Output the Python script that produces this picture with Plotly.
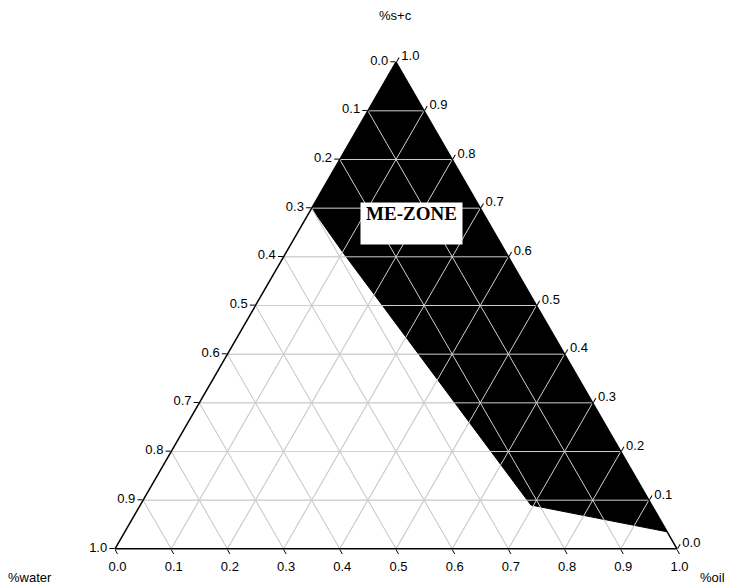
import plotly.graph_objects as go

# Ternary components: a = %s+c (top), b = %water (bottom-left), c = %oil (bottom-right)
zone_sc = [1.0, 0.70, 0.61, 0.09, 0.035, 1.0]
zone_water = [0.0, 0.30, 0.29, 0.215, 0.0, 0.0]
zone_oil = [0.0, 0.0, 0.10, 0.695, 0.965, 0.0]

tick_vals = [0.0, 0.1, 0.2, 0.3, 0.4, 0.5, 0.6, 0.7, 0.8, 0.9, 1.0]
# Labels along each edge show the complementary component (as in the original)
tick_text = ["%.1f" % (1 - v) for v in tick_vals]
grid_vals = [0.1, 0.2, 0.3, 0.4, 0.5, 0.6, 0.7, 0.8, 0.9]

zone_label = "ME-ZONE"
corner_titles = ["%s+c", "%water", "%oil"]

OFF = 8  # page body margin
W, H = 754 - OFF, 585 - OFF
side = 562
L = 115 - OFF
B = H - (549 - OFF)
R = W - L - side
tri_h = side * 3 ** 0.5 / 2
T = H - B - tri_h


def px_to_paper(px, py):
    # px, py in page pixels
    return (px - OFF - L) / side, (H - B - (py - OFF)) / tri_h


fig = go.Figure()
fig.add_trace(go.Scatterternary(
    a=zone_sc, b=zone_water, c=zone_oil,
    mode="lines", fill="toself",
    fillcolor="black", line=dict(color="black", width=1),
    hoverinfo="skip", showlegend=False,
))

# grid lines drawn over the zone
ga, gb, gc = [], [], []
for v in grid_vals:
    ga += [v, v, None]; gb += [1 - v, 0, None]; gc += [0, 1 - v, None]
    ga += [1 - v, 0, None]; gb += [v, v, None]; gc += [0, 1 - v, None]
    ga += [1 - v, 0, None]; gb += [0, 1 - v, None]; gc += [v, v, None]
fig.add_trace(go.Scatterternary(
    a=ga, b=gb, c=gc, mode="lines",
    line=dict(color="#cfcfcf", width=1),
    hoverinfo="skip", showlegend=False,
))

axis_common = dict(
    tickmode="array", tickvals=tick_vals, ticktext=tick_text,
    ticks="outside", ticklen=5, tickcolor="black", tickwidth=1,
    showgrid=True, gridcolor="#cfcfcf", gridwidth=1,
    linecolor="black", linewidth=1.5, showline=True,
    layer="above traces", min=0, title=dict(text=""),
    tickfont=dict(family="Liberation Sans, Arial", size=13, color="black"),
)

annotations = []
for txt, (px, py) in zip(corner_titles, [(395, 16), (30, 577), (712, 577)]):
    x, y = px_to_paper(px, py)
    annotations.append(dict(
        x=x, y=y, xref="paper", yref="paper", text=txt, showarrow=False,
        font=dict(family="Liberation Sans, Arial", size=13, color="black"),
        xanchor="center", yanchor="middle",
    ))
bx, by = px_to_paper(411, 224)
annotations.append(dict(
    x=bx, y=by, xref="paper", yref="paper",
    text="<b>%s</b>" % zone_label, showarrow=False,
    font=dict(family="Liberation Serif, Times New Roman", size=19, color="black"),
    bgcolor="white", width=101, height=41, valign="top", borderpad=0,
    xanchor="center", yanchor="middle",
))

fig.update_layout(
    width=W, height=H,
    margin=dict(l=L, r=R, t=T, b=B, autoexpand=False),
    paper_bgcolor="white",
    font=dict(family="Liberation Sans, Arial", size=13, color="black"),
    ternary=dict(
        sum=1,
        bgcolor="white",
        aaxis=axis_common, baxis=axis_common, caxis=axis_common,
    ),
    annotations=annotations,
)

fig.write_html("out.html")
